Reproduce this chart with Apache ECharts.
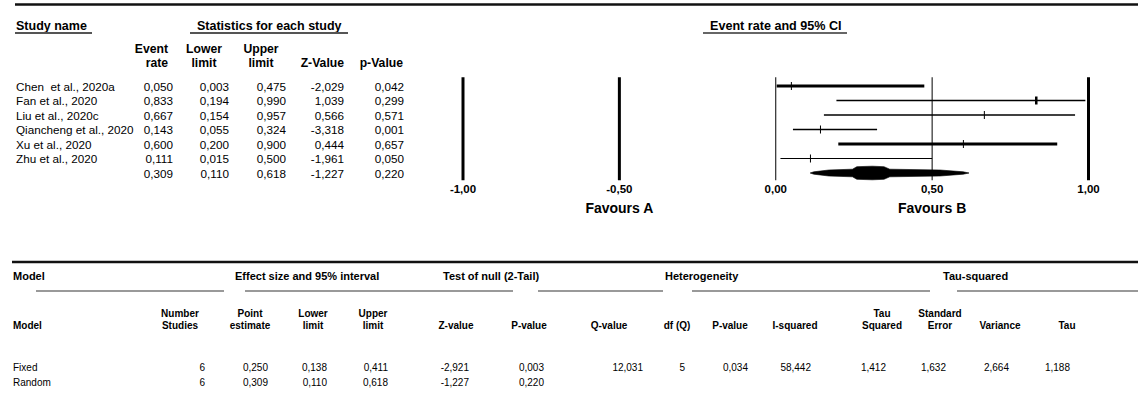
<!DOCTYPE html>
<html>
<head>
<meta charset="utf-8">
<title>Event rate forest plot</title>
<script src="https://cdn.jsdelivr.net/npm/echarts@6/dist/echarts.min.js"></script>
<style>
  html, body { margin: 0; padding: 0; background: #fff; }
  #chart { width: 1138px; height: 393px; }
</style>
</head>
<body>
<div id="chart"></div>
<script>
// ---- study level data ----
var studyNames = ['Chen  et al., 2020a', 'Fan et al., 2020', 'Liu et al., 2020c', 'Qiancheng et al., 2020', 'Xu et al., 2020', 'Zhu et al., 2020', ''];
var eventRate  = [0.050, 0.833, 0.667, 0.143, 0.600, 0.111, 0.309];
var lowerLimit = [0.003, 0.194, 0.154, 0.055, 0.200, 0.015, 0.110];
var upperLimit = [0.475, 0.990, 0.957, 0.324, 0.900, 0.500, 0.618];
var zValue     = [-2.029, 1.039, 0.566, -3.318, 0.444, -1.961, -1.227];
var pValue     = [0.042, 0.299, 0.571, 0.001, 0.657, 0.050, 0.220];
var axisTicks  = [-1, -0.5, 0, 0.5, 1];
var favourLabels = ['Favours A', 'Favours B'];
var favourAt     = [-0.5, 0.5];

// ---- model summary table ----
var modelNames  = ['Fixed', 'Random'];
var numStudies  = [6, 6];
var pointEst    = [0.250, 0.309];
var modelLower  = [0.138, 0.110];
var modelUpper  = [0.411, 0.618];
var modelZ      = [-2.921, -1.227];
var modelP      = [0.003, 0.220];
var qValue      = [12.031, null];
var dfQ         = [5, null];
var hetP        = [0.034, null];
var iSquared    = [58.442, null];
var tauSquared  = [1.412, null];
var tauSE       = [1.632, null];
var tauVariance = [2.664, null];
var tau         = [1.188, null];

// styles (not data)
var ciWidth   = [3, 1.5, 1.5, 1.5, 3, 1];
var tickWidth = [1, 2.5, 1, 1, 1, 1];
var refWidth  = [3, 3, 1, 1, 3];

var FONT = 'Liberation Sans, Arial, sans-serif';
var NARROW = 'Liberation Sans Narrow, Arial Narrow, Liberation Sans, sans-serif';

function fmt(v) {
  if (v === null || v === undefined) return '';
  if (Number.isInteger(v) && v > 1) return String(v);
  return v.toFixed(3).replace('.', ',');
}

var rowIdx = studyNames.map(function (_, i) { return i; });

// left table columns: value array + right edge
var leftCols = [
  { vals: eventRate,  right: 173 },
  { vals: lowerLimit, right: 229 },
  { vals: upperLimit, right: 286 },
  { vals: zValue,     right: 344 },
  { vals: pValue,     right: 404 }
];

var chart = echarts.init(document.getElementById('chart'), null, { renderer: 'svg' });

// static header pieces
var graphics = [];
function txt(x, y, s, opt) {
  opt = opt || {};
  graphics.push({
    type: 'text', x: x, y: y, silent: true,
    style: {
      text: s, fill: opt.color || '#000',
      font: (opt.bold ? 'bold ' : '') + (opt.size || 11) + 'px ' + (opt.family || FONT),
      align: opt.align || 'left', verticalAlign: 'middle'
    }
  });
}
function hline(x1, x2, y, w, c) {
  graphics.push({ type: 'line', silent: true, shape: { x1: x1, y1: y, x2: x2, y2: y }, style: { stroke: c || '#111', lineWidth: w || 1 } });
}

// top panel headers
var H = { bold: true, size: 12.5 };
hline(15, 1138, 4.5, 2.5, '#111');
txt(16, 26, 'Study name', H);
hline(15, 92, 33, 2, '#555');
txt(197, 26, 'Statistics for each study', H);
hline(190, 348, 33, 2, '#555');
txt(710, 26, 'Event rate and 95% CI', { bold: true, size: 12.6 });
hline(703, 847, 33, 2, '#666');
var CH = { bold: true, size: 12.2 };
txt(168, 49, 'Event', Object.assign({ align: 'right' }, CH));
txt(168, 63, 'rate', Object.assign({ align: 'right' }, CH));
txt(204, 49, 'Lower', Object.assign({ align: 'center' }, CH));
txt(204, 63, 'limit', Object.assign({ align: 'center' }, CH));
txt(261, 49, 'Upper', Object.assign({ align: 'center' }, CH));
txt(261, 63, 'limit', Object.assign({ align: 'center' }, CH));
txt(344, 63, 'Z-Value', Object.assign({ align: 'right' }, CH));
txt(403, 63, 'p-Value', Object.assign({ align: 'right' }, CH));

// bottom model table
var G = { size: 11, bold: true };
var B = { size: 10, bold: true };
hline(12, 1138, 262, 2.5, '#111');
txt(13, 276, 'Model', G);
txt(235, 276, 'Effect size and 95% interval', G);
txt(443, 276, 'Test of null (2-Tail)', G);
txt(665, 276, 'Heterogeneity', G);
txt(943, 276, 'Tau-squared', G);
[[36, 224], [245, 513], [538, 663], [692, 930], [957, 1138]].forEach(function (s) { hline(s[0], s[1], 291, 1.5, '#777'); });

var modelCols = [
  { head: ['Number', 'Studies'], cx: 180, right: 205, vals: numStudies },
  { head: ['Point', 'estimate'], cx: 250, right: 268, vals: pointEst },
  { head: ['Lower', 'limit'],    cx: 313, right: 327, vals: modelLower },
  { head: ['Upper', 'limit'],    cx: 373, right: 388, vals: modelUpper },
  { head: ['', 'Z-value'],       cx: 456, right: 469, vals: modelZ },
  { head: ['', 'P-value'],       cx: 529, right: 544, vals: modelP },
  { head: ['', 'Q-value'],       cx: 609, right: 643, vals: qValue },
  { head: ['', 'df (Q)'],        cx: 677, right: 685, vals: dfQ },
  { head: ['', 'P-value'],       cx: 730, right: 748, vals: hetP },
  { head: ['', 'I-squared'],     cx: 795, right: 811, vals: iSquared },
  { head: ['Tau', 'Squared'],    cx: 882, right: 886, vals: tauSquared },
  { head: ['Standard', 'Error'], cx: 940, right: 946, vals: tauSE },
  { head: ['', 'Variance'],      cx: 1000, right: 1009, vals: tauVariance },
  { head: ['', 'Tau'],           cx: 1067, right: 1070, vals: tau }
];
txt(13, 325, 'Model', B);
modelCols.forEach(function (c) {
  if (c.head[0]) txt(c.cx, 313, c.head[0], Object.assign({ align: 'center' }, B));
  txt(c.cx, 325, c.head[1], Object.assign({ align: 'center' }, B));
  c.vals.forEach(function (v, r) {
    txt(c.right, 367 + r * 15, fmt(v), { size: 10, align: 'right' });
  });
});
modelNames.forEach(function (m, r) { txt(13, 367 + r * 15, m, { size: 10 }); });

var option = {
  animation: false,
  backgroundColor: '#fff',
  grid: { left: 463, right: 49.5, top: 78.75, height: 101.5 },
  xAxis: {
    type: 'value', min: -1, max: 1, interval: 0.5,
    axisLine: { show: false }, axisTick: { show: false }, splitLine: { show: false },
    axisLabel: {
      margin: 3, color: '#000', fontWeight: 'bold', fontSize: 11.5, fontFamily: NARROW,
      showMinLabel: true, showMaxLabel: true,
      formatter: function (v) { return v.toFixed(2).replace('.', ','); }
    }
  },
  yAxis: { type: 'category', inverse: true, data: rowIdx, show: false },
  graphic: graphics,
  series: [
    {
      // reference lines at tick values
      type: 'custom', silent: true,
      data: axisTicks.map(function (v, i) { return [v, i]; }),
      renderItem: function (params, api) {
        var cs = params.coordSys;
        var x = api.coord([api.value(0), 0])[0];
        return { type: 'line', shape: { x1: x, y1: cs.y - 1.5, x2: x, y2: cs.y + cs.height }, style: { stroke: '#000', lineWidth: refWidth[api.value(1)] } };
      }
    },
    {
      // study confidence intervals
      type: 'custom', silent: true,
      data: rowIdx.slice(0, 6).map(function (i) { return [lowerLimit[i], upperLimit[i], eventRate[i], i]; }),
      renderItem: function (params, api) {
        var i = api.value(3);
        var a = api.coord([api.value(0), i]);
        var b = api.coord([api.value(1), i]);
        var m = api.coord([api.value(2), i]);
        return {
          type: 'group', children: [
            { type: 'line', shape: { x1: a[0], y1: a[1], x2: b[0], y2: b[1] }, style: { stroke: '#000', lineWidth: ciWidth[i] } },
            { type: 'line', shape: { x1: m[0], y1: m[1] - 4, x2: m[0], y2: m[1] + 4 }, style: { stroke: '#000', lineWidth: tickWidth[i] } }
          ]
        };
      }
    },
    {
      // summary diamond
      type: 'custom', silent: true,
      data: [[lowerLimit[6], eventRate[6], upperLimit[6], 6]],
      renderItem: function (params, api) {
        var r = api.value(3);
        var lo = api.coord([api.value(0), r]);
        var mid = api.coord([api.value(1), r]);
        var hi = api.coord([api.value(2), r]);
        var y = mid[1];
        var profL = [[0, 0], [0.06, 1.2], [0.3, 3], [0.68, 3.8], [0.75, 6.3], [1, 6.8]];
        var profR = [[0, 0], [0.06, 1.2], [0.3, 3], [0.82, 3.8], [0.88, 6.3], [1, 6.8]];
        var top = [], bot = [];
        profL.forEach(function (p) { top.push([lo[0] + (mid[0] - lo[0]) * p[0], y - p[1]]); });
        profR.slice().reverse().forEach(function (p) { top.push([hi[0] - (hi[0] - mid[0]) * p[0], y - p[1]]); });
        profR.forEach(function (p) { bot.push([hi[0] - (hi[0] - mid[0]) * p[0], y + p[1]]); });
        profL.slice().reverse().forEach(function (p) { bot.push([lo[0] + (mid[0] - lo[0]) * p[0], y + p[1]]); });
        return { type: 'polygon', shape: { points: top.concat(bot) }, style: { fill: '#000', stroke: '#000', lineWidth: 0.6 } };
      }
    },
    {
      // left statistics table, one row per category
      type: 'custom', silent: true,
      data: rowIdx.map(function (i) { return [0, i]; }),
      renderItem: function (params, api) {
        var i = api.value(1);
        var y = api.coord([0, i])[1];
        var f = '11.7px ' + FONT;
        var kids = [{
          type: 'text', style: { x: 16, y: y, text: studyNames[i], fill: '#000', font: f, align: 'left', verticalAlign: 'middle' }
        }];
        leftCols.forEach(function (c) {
          kids.push({ type: 'text', style: { x: c.right, y: y, text: fmt(c.vals[i]), fill: '#000', font: f, align: 'right', verticalAlign: 'middle' } });
        });
        return { type: 'group', children: kids };
      }
    },
    {
      // favours labels under the axis
      type: 'custom', silent: true,
      data: favourAt.map(function (v, i) { return [v, i]; }),
      renderItem: function (params, api) {
        var cs = params.coordSys;
        var x = api.coord([api.value(0), 0])[0];
        return { type: 'text', style: { x: x, y: cs.y + cs.height + 28, text: favourLabels[api.value(1)], fill: '#000', font: 'bold 14px ' + NARROW, align: 'center', verticalAlign: 'middle' } };
      }
    }
  ]
};

chart.setOption(option);
</script>
</body>
</html>
